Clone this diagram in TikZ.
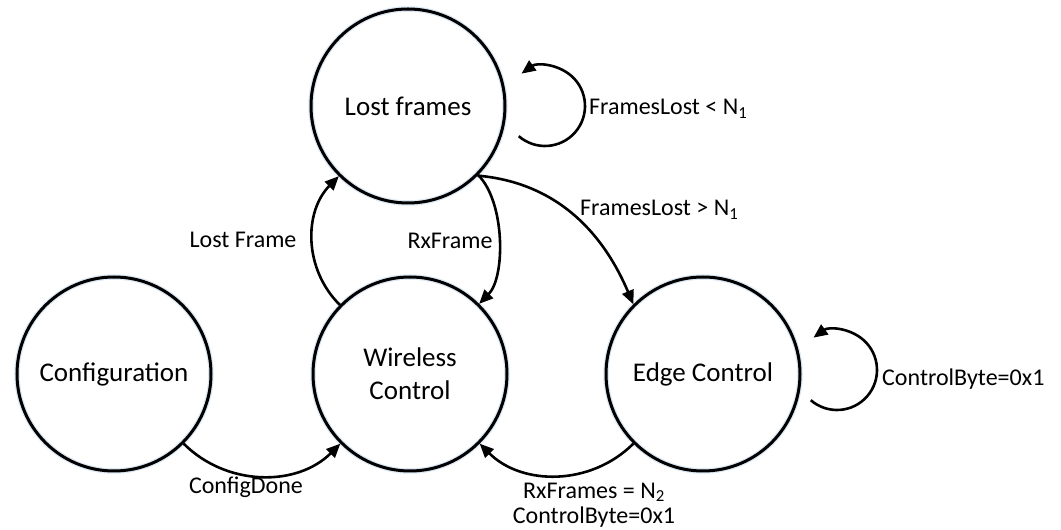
\documentclass[tikz,border=0pt]{standalone}
\usepackage{fontspec}
\setmainfont{Carlito}
\usetikzlibrary{arrows.meta}
\definecolor{glow}{HTML}{DCE8F4}
\begin{document}
\begin{tikzpicture}[x=1pt,y=1pt,
  state/.style={circle,draw,line width=3pt,minimum size=194pt,inner sep=0pt,
    preaction={draw=glow,line width=5.5pt},
    font=\fontsize{27}{33}\selectfont,align=center},
  edge/.style={line width=2.6pt,-{Triangle[length=14pt,width=12pt]}},
  lbl/.style={font=\fontsize{24}{25}\selectfont,inner sep=0pt,align=center}]
\useasboundingbox (0,0) rectangle (1061,530);

\node[state] (lost) at (408,424) {Lost frames};
\node[state] (wire) at (410,156) {Wireless\\Control};
\node[state] (conf) at (114,156) {Configuration};
\node[state] (edge) at (703,156) {Edge Control};

% transitions
\draw[edge] (wire) to[bend left=45] (lost);
\draw[edge] (lost) to[bend left=45,looseness=0.75] (wire);
\draw[edge] (lost.-45) to[out=-5,in=113] (edge.135);
\draw[edge] (conf) to[bend right=45] (wire);
\draw[edge] (edge) to[bend left=45] (wire);

% self loops
\coordinate (lostloop) at ([shift={(-131:40)}]545,424);
\draw[edge] (lostloop) arc[start angle=-131,end angle=126,radius=40];
\coordinate (edgeloop) at ([shift={(-131:40)}]837,160);
\draw[edge] (edgeloop) arc[start angle=-131,end angle=126,radius=40];

% labels
\node[lbl] (lLost) at (243,290) {Lost Frame};
\node[lbl] (lRx) at (450,289) {RxFrame};
\node[lbl,anchor=west] (lGt) at (580,320) {FramesLost > N\textsubscript{1}};
\node[lbl,anchor=west] (lLt) at (589,421) {FramesLost < N\textsubscript{1}};
\node[lbl,anchor=west] (lCb) at (882,151) {ControlByte=0x1};
\node[lbl] (lCd) at (246,43) {ConfigDone};
\node[lbl] (lRxs) at (594,25) {RxFrames = N\textsubscript{2}\\ControlByte=0x1};
\end{tikzpicture}
\end{document}
